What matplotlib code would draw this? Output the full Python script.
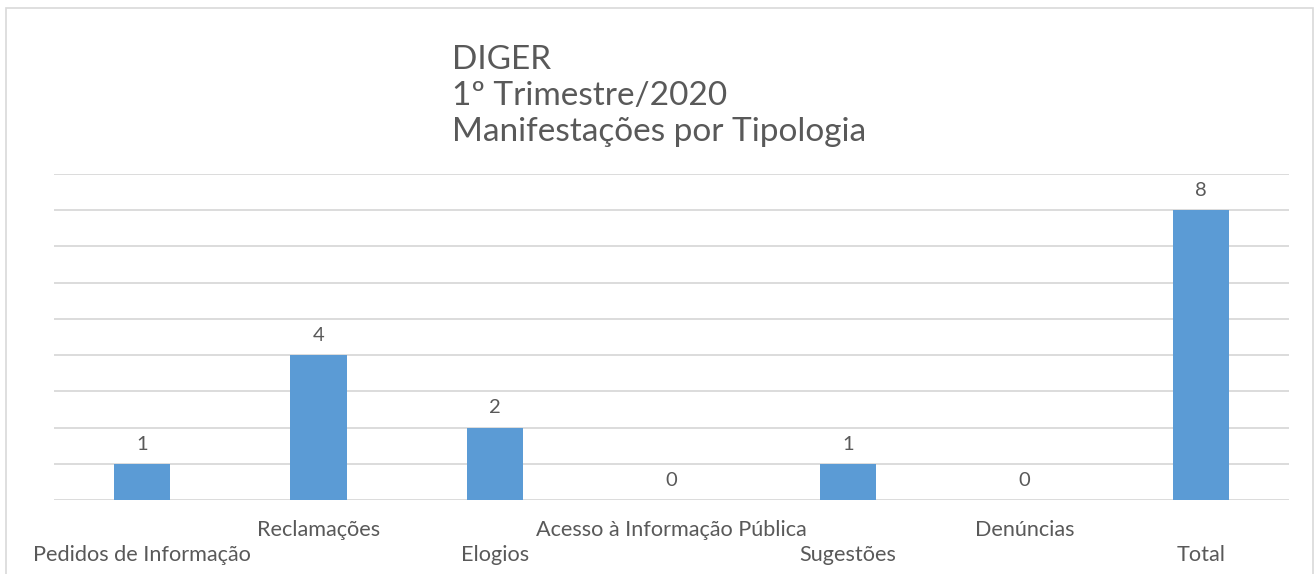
import matplotlib.pyplot as plt
from matplotlib.patches import Rectangle
import matplotlib.transforms as mtransforms

plt.rcParams['font.family'] = ['Lato', 'DejaVu Sans']

categorias = ['Pedidos de Informação', 'Reclamações', 'Elogios',
              'Acesso à Informação Pública', 'Sugestões', 'Denúncias', 'Total']
valores = [1, 4, 2, 0, 1, 0, 8]
titulo = 'DIGER\n1º Trimestre/2020\nManifestações por Tipologia'

cor_barra = '#5b9bd5'
cor_texto = '#595959'
cor_grade = '#d9d9d9'

W, H = 1315, 574
fig = plt.figure(figsize=(W / 100, H / 100), dpi=100)
# moldura do gráfico
fig.patches.append(Rectangle((6 / W, -0.05), (1313 - 6) / W, 1.05 - 8 / H,
                             transform=fig.transFigure, fill=False,
                             edgecolor=cor_grade, linewidth=1.2))

ax = fig.add_axes([54 / W, 74 / H, (1289 - 54) / W, (500 - 174) / H])
x = list(range(len(categorias)))
ax.bar(x, valores, width=0.32, color=cor_barra, zorder=3)
ax.set_xlim(-0.5, len(categorias) - 0.5)
ax.set_ylim(0, 9)
ax.set_yticks(range(0, 10))
ax.yaxis.grid(True, color=cor_grade, linewidth=1.3)
ax.set_axisbelow(True)
ax.tick_params(left=False, labelleft=False, bottom=False, labelbottom=False)
for s in ax.spines.values():
    s.set_visible(False)

# rótulos de dados
for xi, v in zip(x, valores):
    ax.annotate(str(v), (xi, v), xytext=(0, 8), textcoords='offset points',
                ha='center', va='bottom', fontsize=14.5, color=cor_texto)

# rótulos das categorias, alternados
trans = mtransforms.blended_transform_factory(ax.transData, ax.transAxes)
for xi, nome in zip(x, categorias):
    yy = -0.170 if xi % 2 == 0 else -0.093
    ax.text(xi, yy, nome, transform=trans, ha='center', va='center',
            fontsize=15.6, color=cor_texto)

fig.text(452 / W, 1 - 45 / H, titulo, ha='left', va='top', fontsize=24,
         color=cor_texto, linespacing=1.25)

fig.savefig('out.png', dpi=100)
